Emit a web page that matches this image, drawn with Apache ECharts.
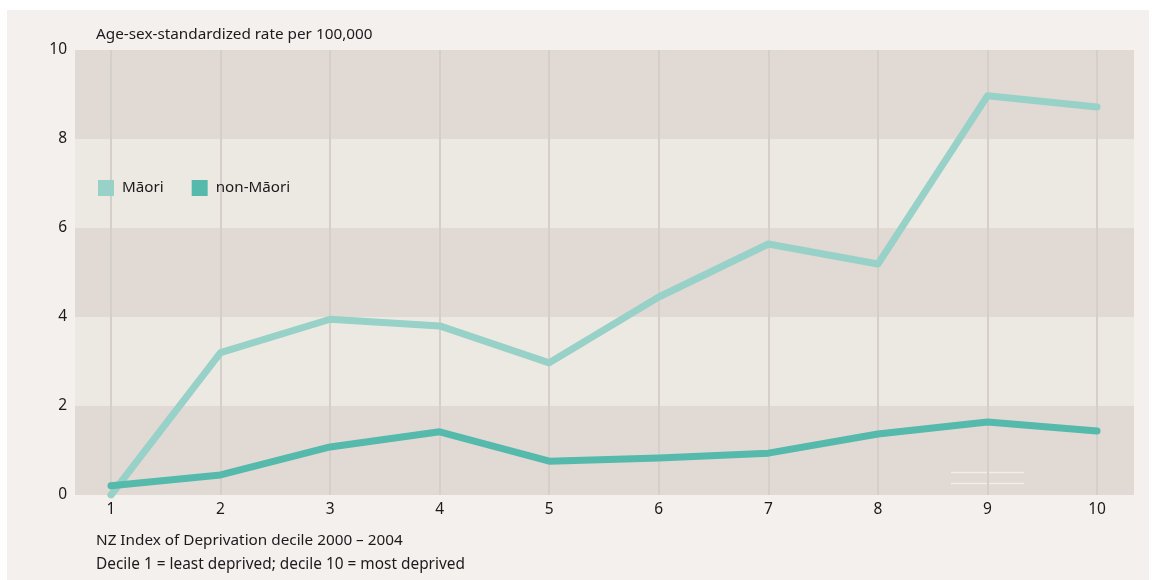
<!DOCTYPE html>
<html>
<head>
<meta charset="utf-8">
<script src="https://cdn.jsdelivr.net/npm/echarts@6/dist/echarts.min.js"></script>
<style>
  html, body { margin: 0; padding: 0; background: #ffffff; }
  #panel { position: absolute; left: 7px; top: 10px; width: 1142px; height: 570px; background: #f3f0ed; }
  #chart { position: absolute; left: 0; top: 0; width: 1152px; height: 580px; }
</style>
</head>
<body>
<div id="panel"></div>
<div id="chart"></div>
<script>
// Deprivation deciles (NZDep 2000–2004)
const deciles = ['1', '2', '3', '4', '5', '6', '7', '8', '9', '10'];
// Age-sex-standardized rate per 100,000
const maori = [0.0, 3.2, 3.95, 3.8, 2.97, 4.45, 5.64, 5.19, 8.97, 8.72];
const nonMaori = [0.21, 0.45, 1.08, 1.42, 0.76, 0.83, 0.94, 1.37, 1.64, 1.44];
// Alternating horizontal bands
const bandEdges = [0, 2, 4, 6, 8, 10];
const yTicks = { min: 0, max: 10, interval: 2 };

const FONT = 'Noto Sans';
const TEXT = '#1c1a1a';
const DARK = '#e0d9d4';
const LIGHT = '#ece9e3';

const bands = [];
for (let i = 0; i < bandEdges.length - 1; i++) {
  bands.push([
    { yAxis: bandEdges[i], itemStyle: { color: i % 2 === 0 ? DARK : LIGHT } },
    { yAxis: bandEdges[i + 1] }
  ]);
}

// bands live on the bottom layer; grid lines, series and overlays sit on layer 1
const TOP = 1;

const chart = echarts.init(document.getElementById('chart'), null, { renderer: 'canvas' });
chart.setOption({
  backgroundColor: 'transparent',
  animation: false,
  textStyle: { fontFamily: FONT, color: TEXT },
  title: [
    { text: 'Age-sex-standardized rate per 100,000', left: 91, top: 22,
      textStyle: { fontFamily: FONT, fontSize: 15.3, fontWeight: 'normal', color: TEXT } },
    { text: 'NZ Index of Deprivation decile 2000 – 2004', left: 91, top: 528,
      textStyle: { fontFamily: FONT, fontSize: 15.3, fontWeight: 'normal', color: TEXT } },
    { text: 'Decile 1 = least deprived; decile 10 = most deprived', left: 91, top: 552,
      textStyle: { fontFamily: FONT, fontSize: 15.4, fontWeight: 'normal', color: TEXT } }
  ],
  legend: {
    left: 93, top: 175, zlevel: TOP,
    icon: 'rect', itemWidth: 16, itemHeight: 16, itemGap: 28,
    textStyle: { fontFamily: FONT, fontSize: 15.2, color: TEXT, padding: [0, 0, 0, 3] },
    data: ['Māori', 'non-Māori']
  },
  grid: [
    { left: 75, right: 18, top: 50, bottom: 85 },
    { left: 111, right: 55, top: 50, bottom: 85 }
  ],
  xAxis: [
    { gridIndex: 0, type: 'value', min: 0, max: 1, show: false },
    { gridIndex: 1, type: 'category', data: deciles, boundaryGap: false, zlevel: TOP,
      axisLine: { show: false }, axisTick: { show: false },
      axisLabel: { fontFamily: FONT, fontSize: 15.5, color: TEXT, margin: 7 },
      splitLine: { show: true, lineStyle: { color: '#d5cfc9', width: 2 } } }
  ],
  yAxis: [
    { gridIndex: 0, type: 'value', min: yTicks.min, max: yTicks.max, interval: yTicks.interval,
      axisLine: { show: false }, axisTick: { show: false }, splitLine: { show: false },
      axisLabel: { fontFamily: FONT, fontSize: 15.5, color: TEXT, margin: 8, padding: [5, 0, 0, 0] } },
    { gridIndex: 1, type: 'value', min: yTicks.min, max: yTicks.max, interval: yTicks.interval,
      show: false, splitLine: { show: false } }
  ],
  series: [
    { type: 'line', xAxisIndex: 0, yAxisIndex: 0, data: [], silent: true, zlevel: 0,
      markArea: { silent: true, data: bands } },
    { name: 'Māori', type: 'line', xAxisIndex: 1, yAxisIndex: 1, data: maori, zlevel: TOP,
      symbol: 'none', color: '#97d1c7',
      lineStyle: { width: 7, color: '#97d1c7', cap: 'round', join: 'round' } },
    { name: 'non-Māori', type: 'line', xAxisIndex: 1, yAxisIndex: 1, data: nonMaori, zlevel: TOP,
      symbol: 'none', color: '#55b9ab',
      lineStyle: { width: 7, color: '#55b9ab', cap: 'round', join: 'round' } }
  ],
  graphic: [
    { type: 'line', zlevel: TOP, shape: { x1: 951, y1: 472.5, x2: 1024, y2: 472.5 },
      style: { stroke: 'rgba(255,255,255,0.55)', lineWidth: 1.5 } },
    { type: 'line', zlevel: TOP, shape: { x1: 951, y1: 483.5, x2: 1024, y2: 483.5 },
      style: { stroke: 'rgba(255,255,255,0.55)', lineWidth: 1.5 } }
  ]
});
</script>
</body>
</html>
